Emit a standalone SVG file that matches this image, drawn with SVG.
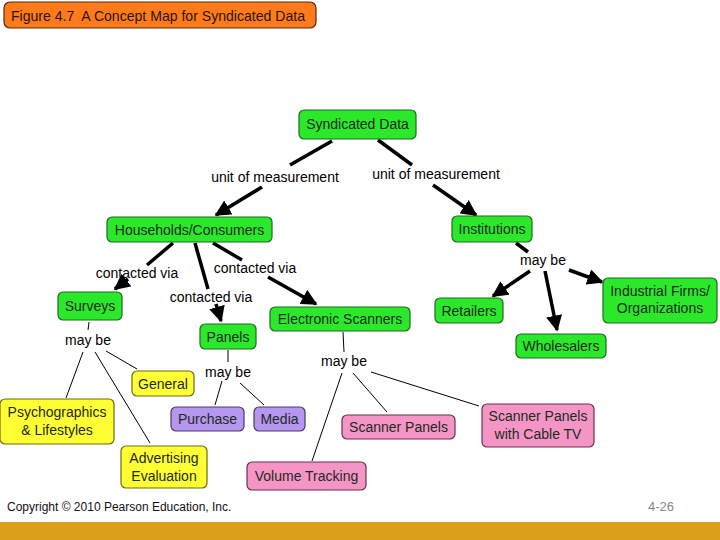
<svg xmlns="http://www.w3.org/2000/svg" width="720" height="540" viewBox="0 0 720 540">
<style>
text{font-family:"Liberation Sans",Arial,sans-serif;}
.n rect{stroke-width:1.2;}
.g rect{fill:#2BE82B;stroke:#1E6B1E;}
.y rect{fill:#FFFF33;stroke:#6B6B10;}
.p rect{fill:#B796F0;stroke:#4A3A6A;}
.k rect{fill:#F595C6;stroke:#6A3050;}
.n text{font-size:14px;text-anchor:middle;fill:#1C2A1C;}
.lbl{font-size:14px;text-anchor:middle;fill:#000;}
.thick{stroke:#000;stroke-width:3.5;fill:none;}
.thin{stroke:#000;stroke-width:1;fill:none;}
</style>
<defs>
<marker id="ah" viewBox="0 0 10 10" refX="9" refY="5" markerWidth="4.6" markerHeight="4.6" orient="auto" markerUnits="strokeWidth">
<path d="M0,0 L10,5 L0,10 z" fill="#000"/>
</marker>
</defs>
<rect width="720" height="540" fill="#fff"/>
<g id="title">
<rect x="4" y="2" width="312" height="26" rx="6" fill="#FF7A1A" stroke="#5A2A08" stroke-width="1.2"/>
<text x="11" y="20.5" font-size="14.5" fill="#2A1505" xml:space="preserve" textLength="294" lengthAdjust="spacingAndGlyphs">Figure 4.7  A Concept Map for Syndicated Data</text>
</g>
<g id="connectors">
<line class="thick" x1="332" y1="141" x2="290" y2="165"/>
<line class="thick" x1="262" y1="187" x2="216" y2="215" marker-end="url(#ah)"/>
<line class="thick" x1="378" y1="140" x2="412" y2="165"/>
<line class="thick" x1="433" y1="185" x2="476" y2="215" marker-end="url(#ah)"/>
<line class="thick" x1="173" y1="243" x2="147" y2="265"/>
<line class="thick" x1="128" y1="279" x2="115" y2="289" marker-end="url(#ah)"/>
<line class="thick" x1="195" y1="243" x2="208" y2="289"/>
<line class="thick" x1="216" y1="304" x2="221" y2="321" marker-end="url(#ah)"/>
<line class="thick" x1="213" y1="243" x2="242" y2="260"/>
<line class="thick" x1="268" y1="277" x2="316" y2="304" marker-end="url(#ah)"/>
<line class="thick" x1="516" y1="243" x2="528" y2="252"/>
<line class="thick" x1="530" y1="271" x2="493" y2="296" marker-end="url(#ah)"/>
<line class="thick" x1="545" y1="271" x2="557" y2="330" marker-end="url(#ah)"/>
<line class="thick" x1="569" y1="270" x2="602" y2="282" marker-end="url(#ah)"/>
<line class="thin" x1="89" y1="322" x2="88" y2="330"/>
<line class="thin" x1="83" y1="352" x2="66" y2="398"/>
<line class="thin" x1="95" y1="352" x2="150" y2="443"/>
<line class="thin" x1="106" y1="351" x2="137" y2="369"/>
<line class="thin" x1="228" y1="350" x2="228" y2="362"/>
<line class="thin" x1="222" y1="381" x2="215" y2="405"/>
<line class="thin" x1="240" y1="383" x2="264" y2="405"/>
<line class="thin" x1="343" y1="332" x2="344" y2="352"/>
<line class="thin" x1="342" y1="373" x2="312" y2="461"/>
<line class="thin" x1="353" y1="373" x2="387" y2="412"/>
<line class="thin" x1="371" y1="372" x2="479" y2="406"/>
<g id="link-labels">
<text class="lbl" x="275" y="182">unit of measurement</text>
<text class="lbl" x="436" y="179">unit of measurement</text>
<text class="lbl" x="137" y="278">contacted via</text>
<text class="lbl" x="211" y="302">contacted via</text>
<text class="lbl" x="255" y="273">contacted via</text>
<text class="lbl" x="543" y="265">may be</text>
<text class="lbl" x="88" y="345">may be</text>
<text class="lbl" x="228" y="377">may be</text>
<text class="lbl" x="344" y="366">may be</text>
</g>
</g>
<g id="syndicated-data" class="n g"><rect x="299" y="110" width="117" height="29" rx="5"/><text x="357.5" y="129">Syndicated Data</text></g>
<g id="households" class="n g"><rect x="107" y="217" width="165" height="25" rx="5"/><text x="189.5" y="234.5">Households/Consumers</text></g>
<g id="institutions" class="n g"><rect x="452" y="216" width="80" height="26" rx="5"/><text x="492" y="234">Institutions</text></g>
<g id="surveys" class="n g"><rect x="58" y="292" width="64" height="28" rx="5"/><text x="90" y="311">Surveys</text></g>
<g id="panels" class="n g"><rect x="200" y="324" width="56" height="25" rx="5"/><text x="228" y="341.5">Panels</text></g>
<g id="electronic-scanners" class="n g"><rect x="270" y="307" width="140" height="24" rx="5"/><text x="340" y="324">Electronic Scanners</text></g>
<g id="retailers" class="n g"><rect x="435" y="298" width="68" height="25" rx="5"/><text x="469" y="315.5">Retailers</text></g>
<g id="wholesalers" class="n g"><rect x="516" y="334" width="90" height="24" rx="5"/><text x="561" y="351">Wholesalers</text></g>
<g id="industrial" class="n g"><rect x="603" y="278" width="114" height="45" rx="5"/><text x="660" y="296">Industrial Firms/</text><text x="660" y="313">Organizations</text></g>
<g id="general" class="n y"><rect x="132" y="371" width="62" height="25" rx="5"/><text x="163" y="388.5">General</text></g>
<g id="psychographics" class="n y"><rect x="0" y="399" width="114" height="45" rx="5"/><text x="57" y="417">Psychographics</text><text x="57" y="434.5">&amp; Lifestyles</text></g>
<g id="advertising" class="n y"><rect x="121" y="446" width="86" height="42" rx="5"/><text x="164" y="463">Advertising</text><text x="164" y="480.5">Evaluation</text></g>
<g id="purchase" class="n p"><rect x="171" y="407" width="73" height="24" rx="5"/><text x="207.5" y="424">Purchase</text></g>
<g id="media" class="n p"><rect x="254" y="407" width="51" height="24" rx="5"/><text x="279.5" y="424">Media</text></g>
<g id="scanner-panels" class="n k"><rect x="342" y="415" width="113" height="24" rx="5"/><text x="398.5" y="432">Scanner Panels</text></g>
<g id="scanner-cable" class="n k"><rect x="482" y="404" width="112" height="43" rx="5"/><text x="538" y="421">Scanner Panels</text><text x="538" y="438.5">with Cable TV</text></g>
<g id="volume-tracking" class="n k"><rect x="247" y="462" width="119" height="28" rx="5"/><text x="306.5" y="481">Volume Tracking</text></g>
<text x="7" y="511" font-size="12" fill="#111">Copyright © 2010 Pearson Education, Inc.</text>
<text x="648" y="511" font-size="13" fill="#888">4-26</text>
<rect x="0" y="522" width="720" height="18" fill="#DAA01C"/>
</svg>
